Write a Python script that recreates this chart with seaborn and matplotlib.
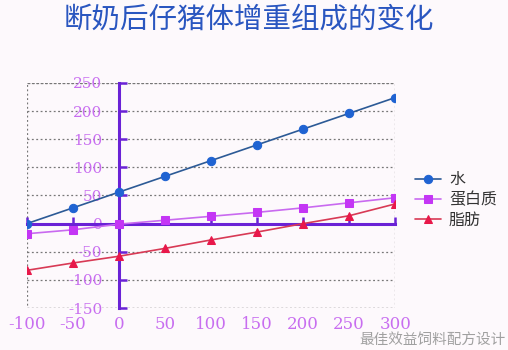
import matplotlib
matplotlib.use("Agg")
import matplotlib.pyplot as plt
from matplotlib.patches import Rectangle
import seaborn as sns
import pandas as pd

sns.set_theme(style="white")
plt.rcParams['font.family'] = ['Noto Sans CJK SC', 'DejaVu Sans']

# Days relative to weaning
days = [-100, -50, 0, 50, 100, 150, 200, 250, 300]
water = [0, 28, 56, 84, 112, 140, 168, 196, 224]
protein = [-18, -11, -1, 6, 13, 20, 28, 37, 46]
fat = [-83, -70, -58, -44, -29, -15, 0, 14, 35]
series_names = ["水", "蛋白质", "脂肪"]
y_ticks = [250, 200, 150, 100, 50, 0, -50, -100, -150]
x_ticks = [-100, -50, 0, 50, 100, 150, 200, 250, 300]

df = pd.DataFrame({
    "day": days * 3,
    "value": water + protein + fat,
    "part": [series_names[0]] * len(days) + [series_names[1]] * len(days) + [series_names[2]] * len(days),
})

styles = {
    "水": dict(line="#2c5a96", face="#1f63d2", marker="o", ms=6),
    "蛋白质": dict(line="#c96af0", face="#c436f5", marker="s", ms=6),
    "脂肪": dict(line="#d83a55", face="#e8184a", marker="^", ms=6),
}

bg = "#fdf9fc"
fig = plt.figure(figsize=(5.08, 3.5), dpi=100, facecolor=bg)
ax = fig.add_axes([0.053, 0.12, 0.725, 0.643])
ax.set_facecolor(bg)

axis_col = "#6a22d6"
label_col = "#c86ef0"

# Dotted horizontal grid and border
for yv in y_ticks:
    ax.axhline(yv, color="#777777", lw=0.9, ls=(0, (1.5, 2)), zorder=0)
ax.add_patch(Rectangle((0, 0), 1, 1, transform=ax.transAxes, fill=False,
                       ec="#777777", lw=0.9, ls=(0, (1.5, 2)), zorder=0))

for name in series_names:
    st = styles[name]
    sns.lineplot(data=df[df["part"] == name], x="day", y="value", ax=ax,
                 color=st["line"], lw=1.2, marker=st["marker"], markersize=st["ms"],
                 markerfacecolor=st["face"], markeredgecolor=st["face"],
                 label=name, zorder=3, errorbar=None)

ax.set_xlim(-100, 300)
ax.set_ylim(-150, 250)
ax.set_xlabel("")
ax.set_ylabel("")

# Axes crossing at zero
for s in ["top", "right"]:
    ax.spines[s].set_visible(False)
ax.spines["left"].set_position(("data", 0))
ax.spines["bottom"].set_position(("data", 0))
ax.spines["left"].set_color(axis_col)
ax.spines["bottom"].set_color(axis_col)
ax.spines["left"].set_linewidth(2.2)
ax.spines["bottom"].set_linewidth(2.2)
ax.spines["left"].set_zorder(2)
ax.spines["bottom"].set_zorder(2)

ax.set_yticks(y_ticks)
ax.set_yticklabels([str(v) for v in y_ticks], family="DejaVu Serif", fontsize=11, color=label_col)
ax.tick_params(axis="y", direction="in", length=6, width=1.8, color=axis_col, pad=12, left=True)

ax.set_xticks(x_ticks)
ax.tick_params(axis="x", direction="in", length=5, width=1.8, color=axis_col, labelbottom=False, bottom=True)

sec = ax.secondary_xaxis(0.0)
sec.set_xticks(x_ticks)
sec.set_xticklabels([str(v) for v in x_ticks], family="DejaVu Serif", fontsize=12, color=label_col)
sec.tick_params(length=0, pad=6)
sec.spines["bottom"].set_visible(False)

leg = ax.legend(loc="center left", bbox_to_anchor=(1.055, 0.48), frameon=False,
                fontsize=11.5, handlelength=1.6, labelspacing=0.2, borderaxespad=0,
                borderpad=0, handletextpad=0.5)
for t in leg.get_texts():
    t.set_color("#333333")

fig.text(0.49, 0.945, "断奶后仔猪体增重组成的变化", ha="center", va="center",
         fontsize=20.5, color="#2a56c0", weight="medium")
fig.text(0.995, 0.028, "最佳效益饲料配方设计", ha="right", va="center",
         fontsize=10.5, color="#a0a0a0")

fig.savefig("out.png", dpi=100, facecolor=bg)
